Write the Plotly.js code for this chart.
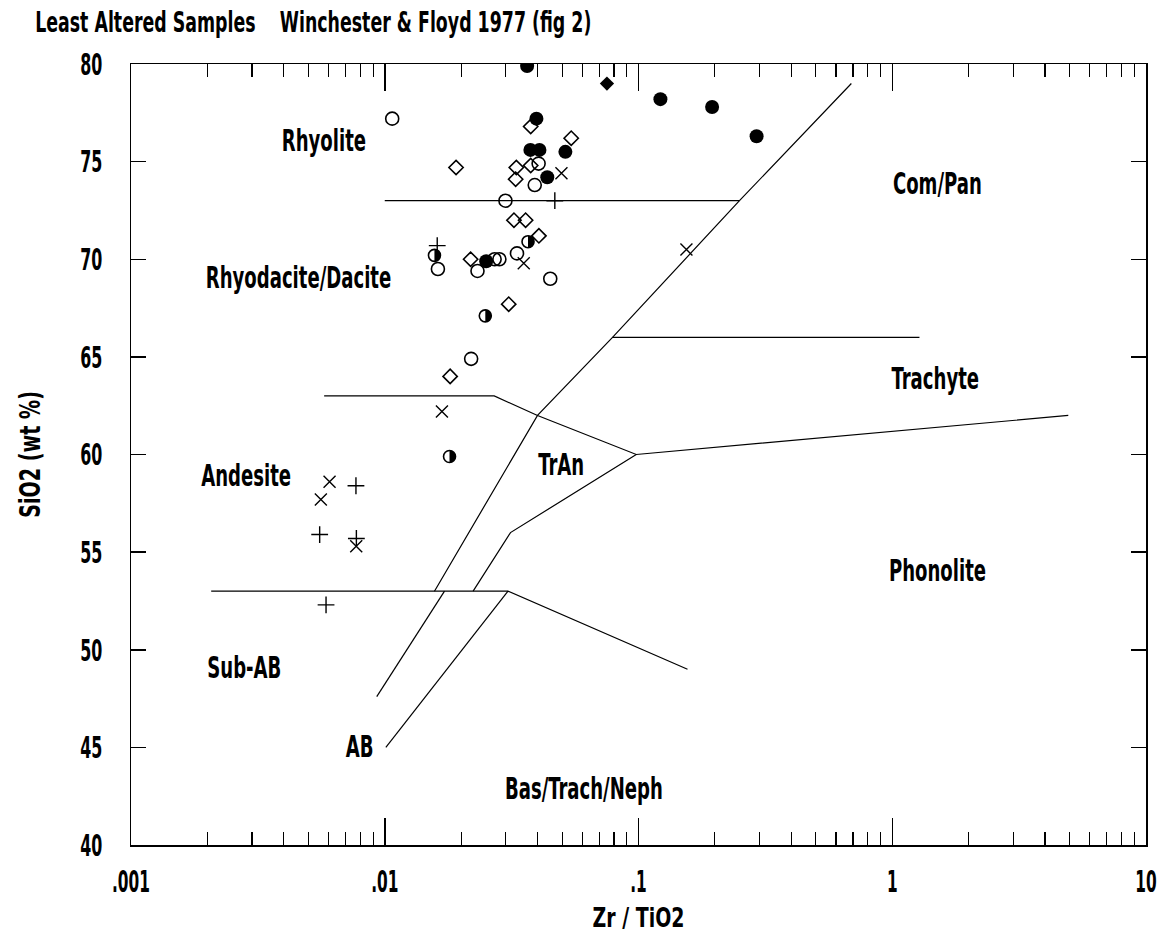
<!DOCTYPE html>
<html><head><meta charset="utf-8">
<script src="https://cdn.plot.ly/plotly-3.0.1.min.js"></script>
<style>html,body{margin:0;padding:0;background:#fff}</style>
</head><body><div id="chart" style="width:1172px;height:933px"></div>
<script>
// ---------- data ----------
const xTickVals = [0.001, 0.01, 0.1, 1, 10];
const xTickText = ['.001', '.01', '.1', '1', '10'];
const yTickVals = [40, 45, 50, 55, 60, 65, 70, 75, 80];

const filledCircleZrTi = [0.0364, 0.0396, 0.0375, 0.0407, 0.0515, 0.0437, 0.122, 0.195, 0.292, 0.0251];
const filledCircleSiO2 = [79.9, 77.2, 75.6, 75.6, 75.5, 74.2, 78.2, 77.8, 76.3, 69.9];

const halfCircleZrTi = [0.0157, 0.0367, 0.0249, 0.0180];
const halfCircleSiO2 = [70.2, 70.9, 67.1, 59.9];

const filledDiamondZrTi = [0.0751];
const filledDiamondSiO2 = [79.0];

const openCircleZrTi = [0.0107, 0.0404, 0.0390, 0.0299, 0.0162, 0.0271, 0.0283, 0.0232, 0.0332, 0.0449, 0.0219];
const openCircleSiO2 = [77.2, 74.9, 73.8, 73.0, 69.5, 70.0, 70.0, 69.4, 70.3, 69.0, 64.9];

const openDiamondZrTi = [0.0376, 0.0543, 0.0191, 0.0330, 0.0376, 0.0328, 0.0323, 0.0359, 0.0405, 0.0218, 0.0308, 0.0181];
const openDiamondSiO2 = [76.8, 76.2, 74.7, 74.7, 74.8, 74.1, 72.0, 72.0, 71.2, 70.0, 67.7, 64.0];

const plusZrTi = [0.0468, 0.0161, 0.0077, 0.00554, 0.00773, 0.00587];
const plusSiO2 = [73.0, 70.7, 58.4, 55.9, 55.7, 52.3];

const crossZrTi = [0.0497, 0.0353, 0.1545, 0.0168, 0.00606, 0.0056, 0.00772];
const crossSiO2 = [74.4, 69.8, 70.5, 62.2, 58.6, 57.7, 55.3];

// field boundaries (Zr/TiO2, SiO2)
const rhyoliteBaseX = [0.01, 0.25];
const rhyoliteBaseY = [73, 73];
const comPanBoundX = [0.0157, 0.04, 0.079, 0.25, 0.69];
const comPanBoundY = [53, 62, 66, 73, 79];
const trachyteTopX = [0.079, 1.28];
const trachyteTopY = [66, 66];
const andesiteTopX = [0.00577, 0.027, 0.04, 0.098, 4.94];
const andesiteTopY = [63, 63, 62, 60, 62];
const tranPhonX = [0.0223, 0.0313, 0.098];
const tranPhonY = [53, 56, 60];
const basaltTopX = [0.00207, 0.0306, 0.156];
const basaltTopY = [53, 53, 49];
const subAbX = [0.0093, 0.0172];
const subAbY = [47.6, 53];
const abBasX = [0.0101, 0.0306];
const abBasY = [45, 53];

const fieldNames = ['Rhyolite', 'Rhyodacite/Dacite', 'Com/Pan', 'Trachyte', 'TrAn', 'Andesite', 'Phonolite', 'Sub-AB', 'AB', 'Bas/Trach/Neph'];
const fieldLabelZrTi = [0.00574, 0.00456, 1.509, 1.486, 0.0497, 0.00283, 1.503, 0.00279, 0.00796, 0.0608];
const fieldLabelSiO2 = [76.06, 69.04, 73.9, 63.91, 59.51, 58.94, 54.08, 49.11, 45.06, 42.91];

// ---------- styling ----------
const FONT = "'Liberation Sans Narrow','DejaVu Sans Condensed','Arial Narrow','DejaVu Sans',sans-serif";
const minorVals = [];
[0.001, 0.01, 0.1, 1].forEach(d => { for (let m = 2; m <= 9; m++) minorVals.push(d * m); });

const traces = [];
function line(x, y) {
  traces.push({x: x, y: y, type: 'scatter', mode: 'lines', hoverinfo: 'skip',
    line: {color: '#000', width: 1.2}, showlegend: false});
}
line(rhyoliteBaseX, rhyoliteBaseY);
line(comPanBoundX, comPanBoundY);
line(trachyteTopX, trachyteTopY);
line(andesiteTopX, andesiteTopY);
line(tranPhonX, tranPhonY);
line(basaltTopX, basaltTopY);
line(subAbX, subAbY);
line(abBasX, abBasY);

function pts(x, y, symbol, size, lw, fill) {
  traces.push({x: x, y: y, type: 'scatter', mode: 'markers', showlegend: false,
    marker: {symbol: symbol, size: size, color: fill || '#000', line: {color: '#000', width: lw}}});
}
pts(openCircleZrTi, openCircleSiO2, 'circle-open', 13, 1.6);
pts(openDiamondZrTi, openDiamondSiO2, 'diamond-open', 11, 1.6);
pts(plusZrTi, plusSiO2, 'cross-thin-open', 12, 1.4);
pts(crossZrTi, crossSiO2, 'x-thin-open', 12, 1.4);
pts(filledCircleZrTi, filledCircleSiO2, 'circle', 14, 0);
pts(filledDiamondZrTi, filledDiamondSiO2, 'diamond', 11, 0);
pts(halfCircleZrTi, halfCircleSiO2, 'circle', 12, 1.6, '#fff');

// right half of the half-filled circles (shapes use data values on log axes)
const r = 6;
const halfPath = `M0,${r} C${0.55*r},${r} ${r},${0.55*r} ${r},0 C${r},${-0.55*r} ${0.55*r},${-r} 0,${-r} Z`;
const shapes = halfCircleZrTi.map((v, i) => ({
  type: 'path', xref: 'x', yref: 'y', xsizemode: 'pixel', ysizemode: 'pixel',
  xanchor: v, yanchor: halfCircleSiO2[i], path: halfPath,
  fillcolor: '#000', line: {width: 0}, layer: 'above'
}));

const annotations = fieldNames.map((t, i) => ({
  text: t, x: Math.log10(fieldLabelZrTi[i]), y: fieldLabelSiO2[i], xref: 'x', yref: 'y',
  showarrow: false, xanchor: 'center', yanchor: 'middle',
  font: {family: FONT, size: 30, color: '#000', weight: 'bold'}
}));

const layout = {
  width: 1172, height: 933,
  margin: {l: 131, r: 26, t: 64, b: 88, autoexpand: false},
  paper_bgcolor: '#fff', plot_bgcolor: '#fff',
  title: {text: 'Least Altered Samples    Winchester &amp; Floyd 1977 (fig 2)',
    xref: 'container', yref: 'container', x: 0.03, xanchor: 'left', y: 0.976, yanchor: 'middle',
    font: {family: FONT, size: 28, color: '#000', weight: 'bold'}},
  xaxis: {type: 'log', range: [-3, 1], tickmode: 'array', tickvals: xTickVals, ticktext: xTickText,
    ticks: 'inside', ticklen: 27, tickwidth: 1.5, tickcolor: '#000',
    showline: true, linecolor: '#000', linewidth: 1.5, mirror: 'ticks',
    showgrid: false, zeroline: false, ticklabelstandoff: 10,
    tickfont: {family: FONT, size: 30, color: '#000', weight: 'bold'},
    minor: {tickmode: 'array', tickvals: minorVals, ticks: 'inside', ticklen: 13, tickwidth: 1.2, tickcolor: '#000', showgrid: false},
    title: {text: 'Zr / TiO2', standoff: 13, font: {family: FONT, size: 27, color: '#000', weight: 'bold'}}},
  yaxis: {range: [40, 80], tickmode: 'array', tickvals: yTickVals,
    ticks: 'inside', ticklen: 15, tickwidth: 1.5, tickcolor: '#000',
    showline: true, linecolor: '#000', linewidth: 1.5, mirror: 'ticks',
    showgrid: false, zeroline: false, ticklabelstandoff: 21,
    tickfont: {family: FONT, size: 31, color: '#000', weight: 'bold'},
    title: {text: 'SiO2 (wt %)', standoff: 14, font: {family: FONT, size: 28, color: '#000', weight: 'bold'}}},
  shapes: shapes,
  annotations: annotations
};

// horizontal compression so the text looks like the condensed lettering of the original
function condense(gd) {
  const rules = [
    ['.xtick text, .ytick text', 0.57],
    ['.annotation-text', 0.67],
    ['.gtitle', 0.69],
    ['.xtitle', 0.78],
    ['.ytitle', 0.76]
  ];
  rules.forEach(([sel, sx]) => {
    gd.querySelectorAll(sel).forEach(t => {
      const x = parseFloat(t.getAttribute('x')) || 0;
      const y = parseFloat(t.getAttribute('y')) || 0;
      const prev = t.getAttribute('transform') || '';
      t.setAttribute('transform', `${prev} translate(${x},${y}) scale(${sx},1) translate(${-x},${-y})`);
    });
  });
}

Plotly.newPlot('chart', traces, layout, {displayModeBar: false, staticPlot: true}).then(condense);
</script></body></html>
